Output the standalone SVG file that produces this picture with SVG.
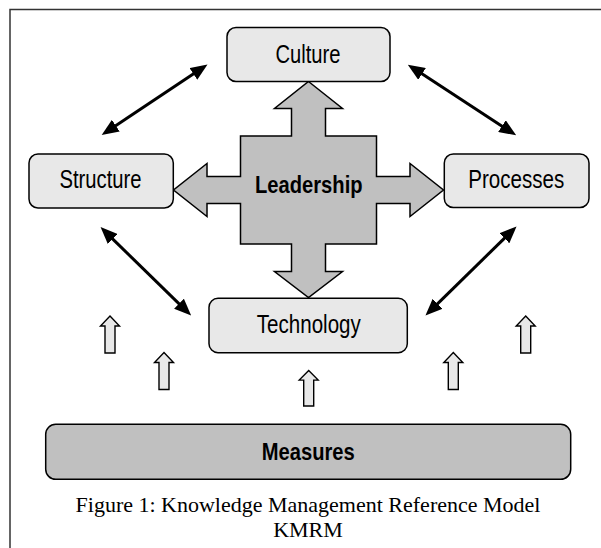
<svg xmlns="http://www.w3.org/2000/svg" width="601" height="548" viewBox="0 0 601 548">
<style>
.box{fill:#e8e8e8;stroke:#000;stroke-width:1.5}
.dark{fill:#c0c0c0;stroke:#000;stroke-width:1.5}
.lbl{font-family:"Liberation Sans Narrow","Liberation Sans",Arial,sans-serif;font-size:25.5px;fill:#000;text-anchor:middle}
.bold{font-weight:bold;font-size:24.5px}
.cap{font-family:"Liberation Serif","Times New Roman",serif;font-size:22px;fill:#000;text-anchor:middle}
.dbl{fill:none;stroke:#000;stroke-width:3;marker-start:url(#ah);marker-end:url(#ah)}
.up{fill:#e8e8e8;stroke:#000;stroke-width:1.4;stroke-linejoin:miter}
</style>
<defs>
<marker id="ah" markerUnits="userSpaceOnUse" viewBox="0 0 17 14" refX="7" refY="7" markerWidth="17" markerHeight="14" orient="auto-start-reverse">
<path d="M0,0 L17,7 L0,14 Z" fill="#000"/>
</marker>
<path id="blk" d="M0,0 L9.5,10 L5,10 L5,37 L-5,37 L-5,10 L-9.5,10 Z"/>
</defs>
<rect width="601" height="548" fill="#fff"/>
<path d="M10,548 V9.5 H601" fill="none" stroke="#333" stroke-width="1.5"/>

<g id="connectors">
<path class="dbl" d="M110.0,129.5 L199.2,70.0"/>
<path class="dbl" d="M416.2,70.1 L507.8,129.9"/>
<path class="dbl" d="M107.7,234.1 L184.0,308.6"/>
<path class="dbl" d="M509.4,233.4 L432.6,308.6"/>
<g class="up">
<use href="#blk" transform="translate(110,316)"/>
<use href="#blk" transform="translate(164,352.5)"/>
<use href="#blk" transform="translate(525.7,316)"/>
<use href="#blk" transform="translate(453.3,352.5)"/>
<use href="#blk" transform="translate(308.7,370.5) scale(1,0.96)"/>
</g>
</g>

<g id="leadership">
<polygon class="dark" points="308.5,81.5 342.5,108.5 325.5,108.5 325.5,136 376.5,136 376.5,176.5 410,176.5 410,163.5 443.5,190 410,216.5 410,203.5 376.5,203.5 376.5,244 325.5,244 325.5,271.5 342.5,271.5 308.5,297.5 274.5,271.5 291.5,271.5 291.5,244 240.5,244 240.5,203.5 207,203.5 207,216.5 173.5,190 207,163.5 207,176.5 240.5,176.5 240.5,136 291.5,136 291.5,108.5 274.5,108.5"/>
<text class="lbl bold" x="308.8" y="192.5" textLength="107.5" lengthAdjust="spacingAndGlyphs">Leadership</text>
</g>

<g id="culture">
<rect class="box" x="227" y="27.5" width="163" height="54" rx="9"/>
<text class="lbl" x="308" y="62.7" textLength="65" lengthAdjust="spacingAndGlyphs">Culture</text>
</g>

<g id="structure">
<rect class="box" x="29" y="154" width="144.3" height="54" rx="9"/>
<text class="lbl" x="100.5" y="188.3" textLength="82" lengthAdjust="spacingAndGlyphs">Structure</text>
</g>

<g id="processes">
<rect class="box" x="444.3" y="154" width="144.7" height="53.5" rx="9"/>
<text class="lbl" x="516.3" y="188.3" textLength="96" lengthAdjust="spacingAndGlyphs">Processes</text>
</g>

<g id="technology">
<rect class="box" x="209" y="298.3" width="198.3" height="54.4" rx="9"/>
<text class="lbl" x="308.8" y="333.3" textLength="104" lengthAdjust="spacingAndGlyphs">Technology</text>
</g>

<g id="measures">
<rect class="dark" x="45.7" y="424.3" width="525" height="55" rx="10"/>
<text class="lbl bold" x="308.3" y="460" textLength="93" lengthAdjust="spacingAndGlyphs">Measures</text>
</g>

<g id="caption">
<text class="cap" x="308" y="511.7">Figure 1: Knowledge Management Reference Model</text>
<text class="cap" x="308" y="536.7">KMRM</text>
</g>
</svg>
